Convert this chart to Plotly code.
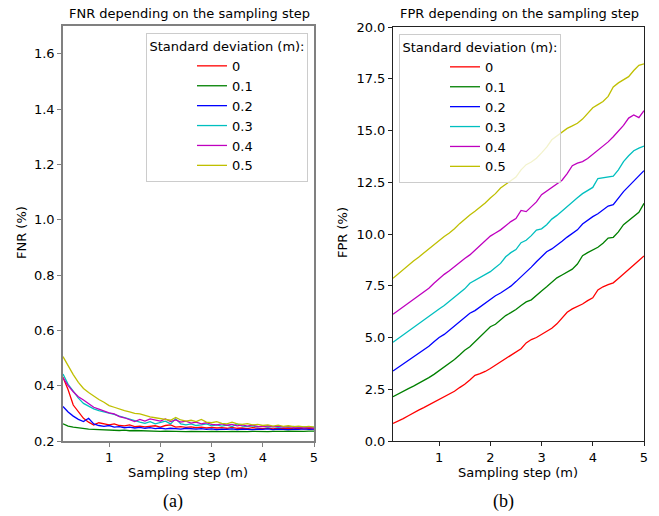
import plotly.graph_objects as go

# ---------------- data ----------------
sampling_step = [0.1, 0.2, 0.3, 0.4, 0.5, 0.6, 0.7, 0.8, 0.9, 1.0,
                 1.1, 1.2, 1.3, 1.4, 1.5, 1.6, 1.7, 1.8, 1.9, 2.0,
                 2.1, 2.2, 2.3, 2.4, 2.5, 2.6, 2.7, 2.8, 2.9, 3.0,
                 3.1, 3.2, 3.3, 3.4, 3.5, 3.6, 3.7, 3.8, 3.9, 4.0,
                 4.1, 4.2, 4.3, 4.4, 4.5, 4.6, 4.7, 4.8, 4.9, 5.0]

std_labels = ["0", "0.1", "0.2", "0.3", "0.4", "0.5"]
colors = ["#ff0000", "#008000", "#0000ff", "#00bfbf", "#bf00bf", "#bfbf00"]

fnr_0 = [0.430, 0.385, 0.330, 0.305, 0.282, 0.268, 0.258, 0.266, 0.262, 0.258,
         0.262, 0.256, 0.255, 0.258, 0.252, 0.254, 0.251, 0.252, 0.255, 0.250,
         0.256, 0.258, 0.250, 0.252, 0.249, 0.251, 0.248, 0.250, 0.247, 0.249,
         0.247, 0.248, 0.246, 0.249, 0.246, 0.247, 0.245, 0.248, 0.246, 0.245,
         0.247, 0.244, 0.246, 0.245, 0.247, 0.244, 0.246, 0.244, 0.245, 0.244]
fnr_01 = [0.262, 0.254, 0.250, 0.247, 0.245, 0.243, 0.242, 0.241, 0.240, 0.240,
          0.239, 0.238, 0.239, 0.237, 0.238, 0.237, 0.236, 0.237, 0.236, 0.235,
          0.236, 0.235, 0.236, 0.235, 0.234, 0.235, 0.234, 0.235, 0.234, 0.235,
          0.234, 0.233, 0.234, 0.235, 0.234, 0.233, 0.234, 0.235, 0.234, 0.235,
          0.234, 0.235, 0.234, 0.235, 0.236, 0.235, 0.236, 0.235, 0.236, 0.236]
fnr_02 = [0.325, 0.305, 0.290, 0.278, 0.270, 0.282, 0.262, 0.256, 0.253, 0.256,
          0.250, 0.252, 0.248, 0.250, 0.247, 0.249, 0.246, 0.248, 0.245, 0.247,
          0.244, 0.246, 0.245, 0.243, 0.246, 0.244, 0.243, 0.245, 0.242, 0.244,
          0.241, 0.243, 0.242, 0.244, 0.241, 0.243, 0.242, 0.241, 0.243, 0.242,
          0.244, 0.241, 0.243, 0.242, 0.241, 0.243, 0.242, 0.244, 0.242, 0.243]
fnr_03 = [0.442, 0.405, 0.380, 0.355, 0.336, 0.325, 0.316, 0.310, 0.306, 0.302,
          0.296, 0.290, 0.284, 0.278, 0.272, 0.268, 0.264, 0.270, 0.262, 0.266,
          0.272, 0.262, 0.280, 0.262, 0.258, 0.262, 0.256, 0.258, 0.262, 0.255,
          0.258, 0.254, 0.257, 0.252, 0.262, 0.254, 0.252, 0.255, 0.251, 0.254,
          0.250, 0.253, 0.249, 0.252, 0.250, 0.253, 0.249, 0.251, 0.249, 0.250]
fnr_04 = [0.428, 0.400, 0.378, 0.360, 0.348, 0.335, 0.322, 0.315, 0.308, 0.302,
          0.298, 0.288, 0.284, 0.276, 0.270, 0.278, 0.272, 0.280, 0.276, 0.272,
          0.280, 0.270, 0.276, 0.268, 0.272, 0.265, 0.268, 0.262, 0.266, 0.260,
          0.258, 0.262, 0.257, 0.260, 0.255, 0.258, 0.254, 0.257, 0.253, 0.252,
          0.255, 0.251, 0.254, 0.250, 0.252, 0.249, 0.251, 0.248, 0.250, 0.247]
fnr_05 = [0.505, 0.470, 0.440, 0.412, 0.390, 0.375, 0.362, 0.350, 0.340, 0.328,
          0.322, 0.315, 0.310, 0.305, 0.300, 0.298, 0.292, 0.287, 0.284, 0.282,
          0.278, 0.275, 0.285, 0.276, 0.272, 0.275, 0.270, 0.278, 0.268, 0.266,
          0.270, 0.264, 0.262, 0.268, 0.262, 0.260, 0.263, 0.258, 0.260, 0.256,
          0.258, 0.254, 0.257, 0.253, 0.255, 0.252, 0.254, 0.251, 0.253, 0.250]

fpr_0 = [0.85, 0.95, 1.08, 1.22, 1.37, 1.49, 1.61, 1.74, 1.85, 1.98,
         2.11, 2.26, 2.40, 2.58, 2.74, 2.95, 3.17, 3.26, 3.36, 3.50,
         3.66, 3.80, 3.96, 4.16, 4.30, 4.46, 4.74, 4.90, 5.00, 5.14,
         5.30, 5.45, 5.66, 5.95, 6.22, 6.38, 6.50, 6.62, 6.78, 6.92,
         7.30, 7.45, 7.55, 7.64, 7.85, 8.08, 8.30, 8.50, 8.72, 8.94]
fpr_01 = [2.14, 2.28, 2.40, 2.53, 2.65, 2.78, 2.92, 3.06, 3.22, 3.40,
          3.56, 3.75, 3.94, 4.15, 4.38, 4.55, 4.80, 5.00, 5.30, 5.52,
          5.64, 5.85, 6.06, 6.20, 6.35, 6.55, 6.72, 6.82, 7.05, 7.25,
          7.45, 7.65, 7.88, 8.02, 8.15, 8.30, 8.55, 8.95, 9.10, 9.22,
          9.36, 9.55, 9.80, 9.84, 10.10, 10.45, 10.65, 10.82, 11.05, 11.48]
fpr_02 = [3.38, 3.55, 3.72, 3.90, 4.05, 4.22, 4.40, 4.58, 4.80, 5.00,
          5.15, 5.35, 5.55, 5.78, 5.95, 6.17, 6.30, 6.48, 6.65, 6.85,
          7.02, 7.15, 7.32, 7.48, 7.70, 7.92, 8.15, 8.40, 8.66, 8.88,
          9.14, 9.28, 9.45, 9.65, 9.85, 10.02, 10.20, 10.48, 10.68, 10.84,
          10.98, 11.18, 11.35, 11.42, 11.75, 12.05, 12.30, 12.55, 12.80, 13.06]
fpr_03 = [4.77, 4.95, 5.14, 5.33, 5.52, 5.68, 5.85, 6.02, 6.20, 6.38,
          6.55, 6.74, 6.95, 7.15, 7.35, 7.62, 7.75, 7.88, 8.02, 8.18,
          8.38, 8.58, 8.90, 9.10, 9.25, 9.58, 9.70, 9.92, 10.19, 10.25,
          10.45, 10.72, 10.90, 11.12, 11.35, 11.55, 11.75, 11.95, 12.10, 12.25,
          12.68, 12.72, 12.75, 12.80, 13.10, 13.50, 13.78, 14.02, 14.15, 14.25]
fpr_04 = [6.12, 6.30, 6.48, 6.65, 6.82, 7.00, 7.18, 7.38, 7.62, 7.86,
          8.05, 8.22, 8.42, 8.65, 8.82, 8.99, 9.22, 9.45, 9.68, 9.90,
          10.05, 10.20, 10.40, 10.60, 10.75, 11.14, 11.08, 11.30, 11.55, 11.90,
          12.08, 12.25, 12.40, 12.60, 12.92, 13.30, 13.42, 13.50, 13.65, 13.85,
          14.08, 14.25, 14.45, 14.70, 14.95, 15.25, 15.60, 15.75, 15.62, 15.96]
fpr_05 = [7.86, 8.08, 8.30, 8.50, 8.70, 8.88, 9.08, 9.28, 9.50, 9.72,
          9.88, 10.05, 10.25, 10.50, 10.72, 10.92, 11.10, 11.28, 11.50, 11.74,
          11.95, 12.22, 12.40, 12.58, 12.75, 13.10, 13.35, 13.48, 13.66, 13.92,
          14.20, 14.55, 14.72, 14.90, 15.10, 15.22, 15.35, 15.55, 15.80, 16.10,
          16.25, 16.40, 16.65, 17.10, 17.30, 17.45, 17.60, 17.90, 18.15, 18.22]

fnr_series = [fnr_0, fnr_01, fnr_02, fnr_03, fnr_04, fnr_05]
fpr_series = [fpr_0, fpr_01, fpr_02, fpr_03, fpr_04, fpr_05]

x_ticks = [1, 2, 3, 4, 5]
fnr_ticks = [0.2, 0.4, 0.6, 0.8, 1.0, 1.2, 1.4, 1.6]
fpr_ticks = [0.0, 2.5, 5.0, 7.5, 10.0, 12.5, 15.0, 17.5, 20.0]

# ---------------- figure ----------------
W, H = 659, 516
FONT = "DejaVu Sans"
FS = 13
fig = go.Figure()

for lab, col, ys in zip(std_labels, colors, fnr_series):
    fig.add_trace(go.Scatter(x=sampling_step, y=ys, mode="lines", name=lab,
                             line=dict(color=col, width=1.3),
                             xaxis="x", yaxis="y", legend="legend"))
for lab, col, ys in zip(std_labels, colors, fpr_series):
    fig.add_trace(go.Scatter(x=sampling_step, y=ys, mode="lines", name=lab,
                             line=dict(color=col, width=1.3),
                             xaxis="x2", yaxis="y2", legend="legend2"))

def px_x(p):
    return p / W

def px_y(p):
    return 1 - p / H

ax_common = dict(showline=True, mirror=True, ticks="outside", ticklen=4,
                 showgrid=False, zeroline=False, automargin=False,
                 tickfont=dict(family=FONT, size=FS, color="#000"))

legend_common = dict(
    font=dict(family=FONT, size=FS, color="#000"),
    title=dict(text="Standard deviation (m):", side="top center",
               font=dict(family=FONT, size=FS, color="#000")),
    bgcolor="rgba(255,255,255,0.8)", bordercolor="#cccccc", borderwidth=1,
    indentation=45, yanchor="top", tracegroupgap=0,
)

fig.update_layout(
    template="none",
    width=W, height=H,
    margin=dict(l=0, r=0, t=0, b=0, pad=0),
    paper_bgcolor="white", plot_bgcolor="white",
    showlegend=True,
    xaxis=dict(domain=[px_x(63), px_x(314)], range=[0.1, 5], tickvals=x_ticks,
               linecolor="#808080", linewidth=1.5, tickcolor="#808080",
               anchor="y", **ax_common),
    yaxis=dict(domain=[px_y(441), px_y(26)], range=[0.2, 1.7], tickvals=fnr_ticks,
               tickformat=".1f",
               linecolor="#808080", linewidth=1.5, tickcolor="#808080",
               anchor="x", **ax_common),
    xaxis2=dict(domain=[px_x(393), px_x(644)], range=[0.1, 5], tickvals=x_ticks,
                linecolor="#222", linewidth=1, tickcolor="#222",
                anchor="y2", **ax_common),
    yaxis2=dict(domain=[px_y(441), px_y(27)], range=[0, 20], tickvals=fpr_ticks,
                tickformat=".1f",
                linecolor="#222", linewidth=1, tickcolor="#222",
                anchor="x2", **ax_common),
    legend=dict(x=px_x(308), y=px_y(33), xanchor="right", **legend_common),
    legend2=dict(x=px_x(399), y=px_y(34), xanchor="left", **legend_common),
)

annots = [
    dict(text="FNR depending on the sampling step", x=px_x(189), y=px_y(13), size=FS, family=FONT),
    dict(text="FPR depending on the sampling step", x=px_x(519), y=px_y(13), size=FS, family=FONT),
    dict(text="Sampling step (m)", x=px_x(188), y=px_y(472), size=FS, family=FONT),
    dict(text="Sampling step (m)", x=px_x(518), y=px_y(472), size=FS, family=FONT),
    dict(text="(a)", x=px_x(173), y=px_y(501), size=18, family="Liberation Serif"),
    dict(text="(b)", x=px_x(503), y=px_y(501), size=18, family="Liberation Serif"),
]
for a in annots:
    fig.add_annotation(text=a["text"], x=a["x"], y=a["y"], xref="paper", yref="paper",
                       showarrow=False, xanchor="center", yanchor="middle",
                       font=dict(family=a["family"], size=a["size"], color="#000"))

fig.add_annotation(text="FNR (%)", x=px_x(21), y=px_y(233), xref="paper", yref="paper",
                   showarrow=False, textangle=-90, xanchor="center", yanchor="middle",
                   font=dict(family=FONT, size=FS, color="#000"))
fig.add_annotation(text="FPR (%)", x=px_x(342), y=px_y(233), xref="paper", yref="paper",
                   showarrow=False, textangle=-90, xanchor="center", yanchor="middle",
                   font=dict(family=FONT, size=FS, color="#000"))

# remove the browser's default page margin so the figure starts at the window corner
fig.write_html("out.html",
               config={"displayModeBar": False},
               post_script="document.body.style.margin='0';document.body.style.overflow='hidden';")
